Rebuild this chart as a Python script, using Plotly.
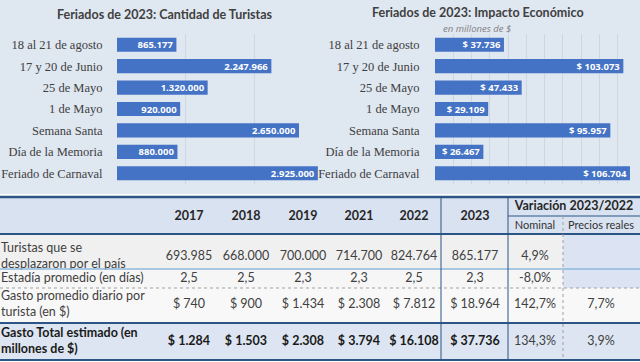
import plotly.graph_objects as go

# ---------------- data ----------------
categories = ["18 al 21 de agosto", "17 y 20 de Junio", "25 de Mayo", "1 de Mayo",
              "Semana Santa", "Día de la Memoria", "Feriado de Carnaval"]
turistas_2023 = [865177, 2247966, 1320000, 920000, 2650000, 880000, 2925000]
impacto_2023 = [37736, 103073, 47433, 29109, 95957, 26467, 106704]

years = ["2017", "2018", "2019", "2021", "2022", "2023"]
row_labels = ["Turistas que se<br>desplazaron por el país",
              "Estadía promedio (en días)",
              "Gasto promedio diario por<br>turista (en $)",
              "Gasto Total estimado (en<br>millones de $)"]
turistas_anual = [693985, 668000, 700000, 714700, 824764, 865177]
estadia = [2.5, 2.5, 2.3, 2.3, 2.5, 2.3]
gasto_diario = [740, 900, 1434, 2308, 7812, 18964]
gasto_total = [1284, 1503, 2308, 3794, 16108, 37736]
var_nominal = [4.9, -8.0, 142.7, 134.3]
var_real = [None, None, 7.7, 3.9]


def fmt_int(n):
    return f"{n:,}".replace(",", ".")


def fmt_dec(x):
    return f"{x:.1f}".replace(".", ",")


# ---------------- layout helpers (pixels) ----------------
W, H = 640, 362


def px(x):
    return x / W


def py(y):
    return 1 - y / H


BAR = "#4472c4"
TXT = "#404040"
DARK = "#2a5585"
TFS = 12.5

fig = go.Figure()

# Left bar chart
fig.add_trace(go.Bar(
    y=categories, x=turistas_2023, orientation="h",
    marker=dict(color=BAR, line=dict(width=0)),
    text=[fmt_int(v) for v in turistas_2023],
    textposition="inside", insidetextanchor="end", constraintext="none",
    textfont=dict(family="Open Sans", size=9.5, color="white", weight="bold"),
    xaxis="x", yaxis="y", hoverinfo="skip",
))
# Right bar chart
fig.add_trace(go.Bar(
    y=categories, x=impacto_2023, orientation="h",
    marker=dict(color=BAR, line=dict(width=0)),
    text=["$ " + fmt_int(v) for v in impacto_2023],
    textposition="inside", insidetextanchor="end", constraintext="none",
    textfont=dict(family="Open Sans", size=9.5, color="white", weight="bold"),
    xaxis="x2", yaxis="y2", hoverinfo="skip",
))

# ---------------- table ----------------
col_x = [189, 246, 303, 359, 414, 475]
nom_x, real_x = 535, 601
row_y = [257, 279, 305, 342]

table_rows = [
    [fmt_int(v) for v in turistas_anual],
    [fmt_dec(v) for v in estadia],
    ["$ " + fmt_int(v) for v in gasto_diario],
    ["$ " + fmt_int(v) for v in gasto_total],
]

# header years
fig.add_trace(go.Scatter(
    x=col_x, y=[217] * len(years), mode="text", text=years,
    textfont=dict(family="Lato", size=TFS, color="#262626", weight="bold"),
    xaxis="x3", yaxis="y3", hoverinfo="skip",
))
fig.add_trace(go.Scatter(
    x=[574, nom_x, real_x], y=[207, 226, 226], mode="text",
    text=["Variación 2023/2022", "Nominal", "Precios reales"],
    textfont=dict(family="Lato", size=[12.5, 11, 11], color=["#262626", "#333333", "#333333"],
                  weight=["bold", "normal", "normal"]),
    xaxis="x3", yaxis="y3", hoverinfo="skip",
))
# row labels
fig.add_trace(go.Scatter(
    x=[1] * len(row_labels), y=row_y, mode="text", text=row_labels,
    textposition="middle right",
    textfont=dict(family="Lato", size=TFS, color=[TXT, TXT, TXT, "#1a1a1a"],
                  weight=["normal", "normal", "normal", "bold"]),
    xaxis="x3", yaxis="y3", hoverinfo="skip",
))
# values
for i, vals in enumerate(table_rows):
    bold = i == 3
    fig.add_trace(go.Scatter(
        x=col_x, y=[row_y[i]] * len(vals), mode="text", text=vals,
        textfont=dict(family="Lato", size=TFS, color="#1a1a1a" if bold else TXT,
                      weight="bold" if bold else "normal"),
        xaxis="x3", yaxis="y3", hoverinfo="skip",
    ))
fig.add_trace(go.Scatter(
    x=[nom_x] * 4, y=row_y, mode="text",
    text=[fmt_dec(v) + "%" for v in var_nominal],
    textfont=dict(family="Lato", size=TFS, color=TXT),
    xaxis="x3", yaxis="y3", hoverinfo="skip",
))
real_y = [row_y[i] for i, v in enumerate(var_real) if v is not None]
fig.add_trace(go.Scatter(
    x=[real_x] * len(real_y), y=real_y, mode="text",
    text=[fmt_dec(v) + "%" for v in var_real if v is not None],
    textfont=dict(family="Lato", size=TFS, color=TXT),
    xaxis="x3", yaxis="y3", hoverinfo="skip",
))

shapes = []


def rect(x0, y0, x1, y1, color):
    shapes.append(dict(type="rect", xref="paper", yref="paper",
                       x0=px(x0), y0=py(y1), x1=px(x1), y1=py(y0),
                       fillcolor=color, line=dict(width=0), layer="below"))


def line(x0, y0, x1, y1, color, width=1, dash="solid"):
    shapes.append(dict(type="line", xref="paper", yref="paper",
                       x0=px(x0), y0=py(y0), x1=px(x1), y1=py(y1),
                       line=dict(color=color, width=width, dash=dash), layer="above"))


# top background
rect(0, 0, 640, 194, "#dfe7f1")
# table backgrounds
rect(0, 197, 640, 234, "#d9e2f0")
rect(0, 234, 640, 269, "#f0f0f0")
rect(0, 269, 640, 288, "#f6f6f6")
rect(0, 288, 640, 323, "#f8f8f8")
rect(563, 234, 640, 288, "#dce3f2")
rect(0, 323, 640, 360, "#dce5f1")
# table lines
line(0, 197, 640, 197, DARK, 2.5)
line(0, 234, 640, 234, DARK, 2)
line(0, 269, 640, 269, "#8fb8dc", 1.5)
line(0, 288, 640, 288, "#a0a0a0", 1, "dot")
line(0, 323, 640, 323, DARK, 2)
line(0, 360, 640, 360, DARK, 2)
line(508, 216, 640, 216, DARK, 1)
line(441, 197, 441, 360, DARK, 1)
line(508, 197, 508, 360, DARK, 1)
line(563, 216, 563, 360, "#a0a0a0", 1, "dot")

annotations = [
    dict(text="<b>Feriados de 2023: Cantidad de Turistas</b>", xref="paper", yref="paper",
         x=px(165), y=py(14), showarrow=False, xanchor="center", yanchor="middle",
         font=dict(family="Lato", size=12.5, color="#404040")),
    dict(text="<b>Feriados de 2023: Impacto Económico</b>", xref="paper", yref="paper",
         x=px(478), y=py(13), showarrow=False, xanchor="center", yanchor="middle",
         font=dict(family="Lato", size=12.5, color="#404040")),
    dict(text="<i>en millones de $</i>", xref="paper", yref="paper",
         x=px(477), y=py(28), showarrow=False, xanchor="center", yanchor="middle",
         font=dict(family="Open Sans", size=9.5, color="#7f7f7f")),
]

ydom = [py(184), py(34)]
cat_font = dict(family="Liberation Serif", size=12.5, color=TXT)

fig.update_layout(
    width=W, height=H,
    margin=dict(l=0, r=0, t=0, b=0),
    paper_bgcolor="white", plot_bgcolor="rgba(0,0,0,0)",
    showlegend=False, bargap=0.34,
    shapes=shapes, annotations=annotations,
    xaxis=dict(domain=[px(117), px(323)], range=[0, 3000000], dtick=1000000,
               showgrid=True, gridcolor="#cdd6e2", gridwidth=1, zeroline=False,
               showticklabels=False, fixedrange=True),
    yaxis=dict(domain=ydom, categoryorder="array", categoryarray=categories,
               autorange="reversed", tickfont=cat_font, ticks="outside", ticklen=11,
               tickcolor="rgba(0,0,0,0)", showgrid=False, zeroline=False, showline=False),
    xaxis2=dict(domain=[px(435), px(636)], range=[0, 110000], dtick=10000,
                showgrid=True, gridcolor="#cdd6e2", gridwidth=1, zeroline=False,
                showticklabels=False, anchor="y2"),
    yaxis2=dict(domain=ydom, categoryorder="array", categoryarray=categories,
                autorange="reversed", tickfont=cat_font, ticks="outside", ticklen=12,
                tickcolor="rgba(0,0,0,0)", showgrid=False, zeroline=False, anchor="x2"),
    xaxis3=dict(domain=[0, 1], range=[0, W], visible=False, anchor="y3"),
    yaxis3=dict(domain=[0, 1], range=[H, 0], visible=False, anchor="x3"),
)

fig.write_html("out.html", config={"displayModeBar": False},
               post_script="document.body.style.margin='0';")
